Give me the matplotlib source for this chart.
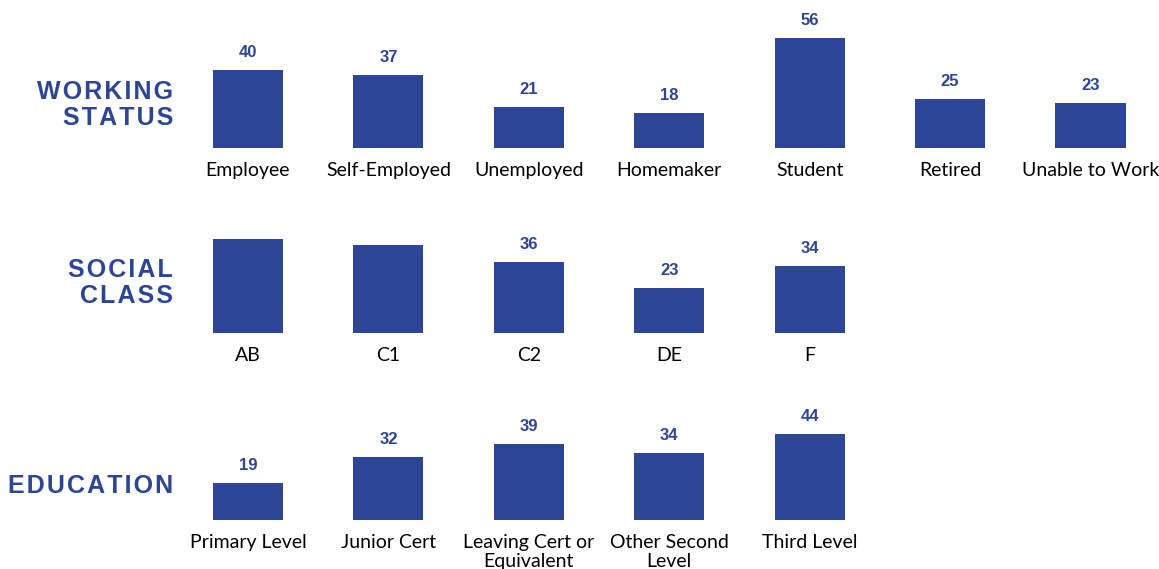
import matplotlib
matplotlib.use("Agg")
import matplotlib.pyplot as plt

# ---- data ----
work_cats = ["Employee", "Self-Employed", "Unemployed", "Homemaker", "Student", "Retired", "Unable to Work"]
work_vals = [40, 37, 21, 18, 56, 25, 23]
work_show = [True] * 7

class_cats = ["AB", "C1", "C2", "DE", "F"]
class_vals = [48, 45, 36, 23, 34]
class_show = [False, False, True, True, True]

edu_cats = ["Primary Level", "Junior Cert", "Leaving Cert or\nEquivalent", "Other Second\nLevel", "Third Level"]
edu_vals = [19, 32, 39, 34, 44]
edu_show = [True] * 5

row_titles = ["WORKING\nSTATUS", "SOCIAL\nCLASS", "EDUCATION"]

BLUE = "#2d4597"
W, H = 1159, 569
fig = plt.figure(figsize=(W / 100, H / 100), dpi=100)

px_per_unit = 1.96
first_center = 248
spacing = 140.4
baselines = [148, 333, 520]
title_offsets = [43, 50, 34]
ymax = 60

rows = [(work_cats, work_vals, work_show), (class_cats, class_vals, class_show), (edu_cats, edu_vals, edu_show)]

HS = "\u200a"

def spaced(s):
    return "\n".join(HS.join(list(line)) for line in s.split("\n"))

for r, ((cats, vals, show), base, title, toff) in enumerate(zip(rows, baselines, row_titles, title_offsets)):
    h = ymax * px_per_unit
    ax = fig.add_axes([0, (H - base) / H, 1, h / H])
    ax.set_xlim(-first_center / spacing, (W - first_center) / spacing)
    ax.set_ylim(0, ymax)
    ax.axis("off")
    xs = list(range(len(cats)))
    ax.bar(xs, vals, width=0.5, color=BLUE)
    for x, v, s, c in zip(xs, vals, show, cats):
        if s:
            ax.annotate(str(v), (x, v), xytext=(0, 10), textcoords="offset pixels",
                        ha="center", va="bottom", fontsize=12, fontweight="bold",
                        color=BLUE, family=["Liberation Sans", "DejaVu Sans"])
        ax.annotate(c, (x, 0), xytext=(0, -14), textcoords="offset pixels",
                    ha="center", va="top", fontsize=14, color="black",
                    family=["Lato", "DejaVu Sans"], linespacing=1.15)
    # row title
    fig.text(173 / W, (H - base + toff) / H, spaced(title), ha="right", va="center",
             multialignment="right", fontsize=18, fontweight="bold", color=BLUE,
             family=["Liberation Sans", "DejaVu Sans"], linespacing=1.15)

fig.savefig("out.png", dpi=100, facecolor="white")
